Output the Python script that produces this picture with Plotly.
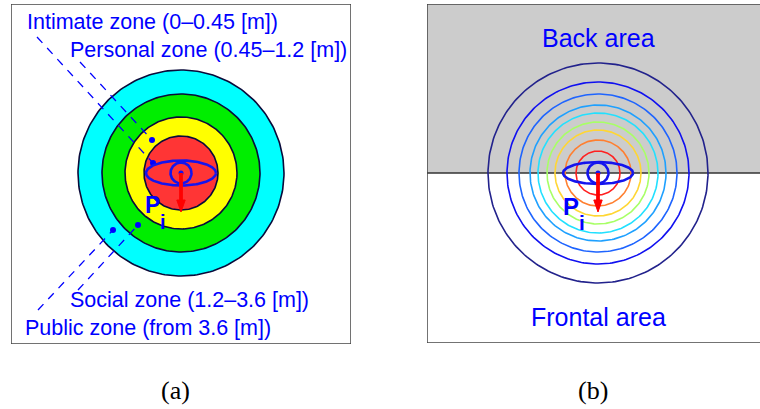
import numpy as np
import plotly.graph_objects as go

# ---------------- data ----------------
zone_names = ["Public zone (from 3.6 [m])", "Social zone (1.2–3.6 [m])",
              "Personal zone (0.45–1.2 [m])", "Intimate zone (0–0.45 [m])"]
zone_radii = [103, 79, 56, 37]            # schematic radii (panel a)
zone_colors = ["#00ffff", "#00ee00", "#ffff00", "#ff3535"]

contour_radii = [110, 91, 79, 68, 60, 51, 43, 33, 22]   # panel b
contour_colors = ["#22228c", "#1010f0", "#1e64ff", "#1ea0ff", "#22e0ff",
                  "#a8ff66", "#ffd633", "#ff7f30", "#ff2020"]

# label anchor (x, y) and leader line (start -> dot) for panel a
label_pos = {"Intimate zone (0–0.45 [m])": (-156, 151),
             "Personal zone (0.45–1.2 [m])": (-113, 123),
             "Social zone (1.2–3.6 [m])": (-113, -127),
             "Public zone (from 3.6 [m])": (-158, -155)}
leader_start = [(-144, 136), (-101, 111), (-103, -117), (-143, -137)]
leader_dot = [(-28, 10), (-29, 33), (-43, -52), (-68, -57)]

eye_rx, eye_ry_a, eye_ry_b, head_r = 35, 12.5, 11, 10.5
arrow_len = 39

BLUE = "#0000ff"
FONT = "Liberation Sans, Arial, Helvetica, sans-serif"

theta = np.linspace(0, 2 * np.pi, 241)
fig = go.Figure()

def circ(r, cx=0, cy=0, ry=None):
    ry = r if ry is None else ry
    return cx + r * np.cos(theta), cy + ry * np.sin(theta)

# ---------------- panel (a) ----------------
for r, c in zip(zone_radii, zone_colors):
    x, y = circ(r)
    fig.add_trace(go.Scatter(x=x, y=y, mode="lines", fill="toself", fillcolor=c,
                             line=dict(color="#0a0a3a", width=1.6),
                             hoverinfo="skip", xaxis="x", yaxis="y"))

for (x0, y0), (x1, y1) in zip(leader_start, leader_dot):
    fig.add_trace(go.Scatter(x=[x0, x1], y=[y0, y1], mode="lines",
                             line=dict(color=BLUE, width=1.3, dash="8px,7px"),
                             hoverinfo="skip", xaxis="x", yaxis="y"))
fig.add_trace(go.Scatter(x=[p[0] for p in leader_dot], y=[p[1] for p in leader_dot],
                         mode="markers", marker=dict(color=BLUE, size=6),
                         hoverinfo="skip", xaxis="x", yaxis="y"))

def eye(xa, ya, ry):
    x, y = circ(eye_rx, ry=ry)
    fig.add_trace(go.Scatter(x=x, y=y, mode="lines", line=dict(color="#1414ee", width=2.6),
                             hoverinfo="skip", xaxis=xa, yaxis=ya))
    x, y = circ(head_r)
    fig.add_trace(go.Scatter(x=x, y=y, mode="lines", line=dict(color="#1414ee", width=2.6),
                             hoverinfo="skip", xaxis=xa, yaxis=ya))
    fig.add_trace(go.Scatter(x=[0], y=[0], mode="markers", marker=dict(color="#1414ee", size=5),
                             hoverinfo="skip", xaxis=xa, yaxis=ya))
    # red arrow
    head = 12
    fig.add_trace(go.Scatter(x=[0, 0], y=[0, -(arrow_len - head + 1)], mode="lines",
                             line=dict(color="#ff0000", width=3.8),
                             hoverinfo="skip", xaxis=xa, yaxis=ya))
    fig.add_trace(go.Scatter(x=[-4.2, 4.2, 0, -4.2],
                             y=[-(arrow_len - head), -(arrow_len - head), -arrow_len, -(arrow_len - head)],
                             mode="lines", fill="toself", fillcolor="#ff0000",
                             line=dict(color="#ff0000", width=1),
                             hoverinfo="skip", xaxis=xa, yaxis=ya))

eye("x", "y", eye_ry_a)

# ---------------- panel (b) ----------------
for r, c in zip(contour_radii, contour_colors):
    x, y = circ(r)
    fig.add_trace(go.Scatter(x=x, y=y, mode="lines", line=dict(color=c, width=1.6),
                             hoverinfo="skip", xaxis="x2", yaxis="y2"))
eye("x2", "y2", eye_ry_b)

# ---------------- layout ----------------
W, H = 760, 409
def dom_x(a, b): return [a / W, b / W]
def dom_y(top, bot): return [1 - bot / H, 1 - top / H]

ax_common = dict(visible=False, fixedrange=True)
fig.update_layout(
    width=W, height=H, margin=dict(l=0, r=0, t=0, b=0),
    paper_bgcolor="white", plot_bgcolor="white", showlegend=False,
    xaxis=dict(domain=dom_x(11, 351), range=[-170, 170], **ax_common),
    yaxis=dict(domain=dom_y(4, 344), range=[-171, 169], **ax_common),
    xaxis2=dict(domain=dom_x(427, 760), range=[-171, 162], **ax_common),
    yaxis2=dict(domain=dom_y(4, 343), range=[-170, 169], **ax_common),
)

shapes = [
    dict(type="rect", xref="x", yref="y", x0=-170, x1=170, y0=-171, y1=169,
         line=dict(color="#444444", width=1.5), layer="above"),
    dict(type="rect", xref="x2", yref="y2", x0=-171, x1=163, y0=0, y1=169,
         fillcolor="#cccccc", line=dict(width=0), layer="below"),
    dict(type="line", xref="x2", yref="y2", x0=-171, x1=163, y0=0, y1=0,
         line=dict(color="#333333", width=1.5), layer="below"),
    dict(type="line", xref="x2", yref="y2", x0=-171, x1=163, y0=169, y1=169,
         line=dict(color="#444444", width=1.5)),
    dict(type="line", xref="x2", yref="y2", x0=-171, x1=163, y0=-170, y1=-170,
         line=dict(color="#444444", width=1.5)),
    dict(type="line", xref="x2", yref="y2", x0=-171, x1=-171, y0=-170, y1=169,
         line=dict(color="#444444", width=1.5)),
]
fig.update_layout(shapes=shapes)

ann = []
for name in zone_names:
    x, y = label_pos[name]
    ann.append(dict(x=x, y=y, xref="x", yref="y", text=name, showarrow=False,
                    xanchor="left", yanchor="middle",
                    font=dict(family=FONT, size=21.5, color=BLUE)))
for xa, ya, px, py, ix, iy, fs in [("x", "y", -28.5, -32, -18, -49, 23),
                                    ("x2", "y2", -27, -33, -16, -49, 24)]:
    ann.append(dict(x=px, y=py, xref=xa, yref=ya, text="<b>P</b>", showarrow=False,
                    font=dict(family=FONT, size=fs, color=BLUE)))
    ann.append(dict(x=ix, y=iy, xref=xa, yref=ya, text="<b>i</b>", showarrow=False,
                    font=dict(family=FONT, size=fs - 3, color=BLUE)))
ann.append(dict(x=0, y=135, xref="x2", yref="y2", text="Back area", showarrow=False,
                font=dict(family=FONT, size=25, color=BLUE)))
ann.append(dict(x=0, y=-144, xref="x2", yref="y2", text="Frontal area", showarrow=False,
                font=dict(family=FONT, size=25, color=BLUE)))
for t, xp in [("(a)", 175), ("(b)", 593)]:
    ann.append(dict(x=xp / W, y=1 - 390 / H, xref="paper", yref="paper", text=t,
                    xanchor="center", yanchor="middle", showarrow=False,
                    font=dict(family="Liberation Serif, Times New Roman, serif",
                              size=26, color="black")))
fig.update_layout(annotations=ann)

fig.write_html("out.html", config={"displayModeBar": False},
               post_script="document.body.style.margin='0';document.body.style.overflow='hidden';")
